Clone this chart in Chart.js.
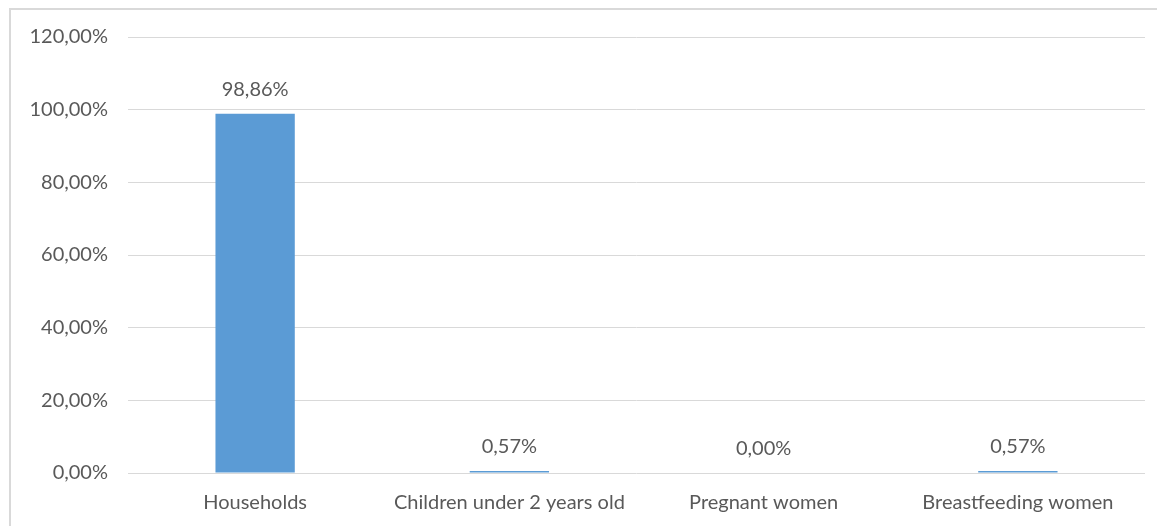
<!DOCTYPE html>
<html>
<head>
<meta charset="utf-8">
<script src="https://cdn.jsdelivr.net/npm/chart.js@4"></script>
<style>
  html, body { margin: 0; padding: 0; background: #fff; }
  #wrap { position: relative; width: 1157px; height: 526px; overflow: hidden; }
  #frame { position: absolute; left: 9px; top: 8px; width: 1200px; height: 600px; border: 2px solid #d9d9d9; box-sizing: border-box; }
  canvas { position: absolute; left: 0; top: 0; }
</style>
</head>
<body>
<div id="wrap">
  <div id="frame"></div>
  <canvas id="Chart" width="1157" height="526"></canvas>
</div>
<script>
const categories = ['Households', 'Children under 2 years old', 'Pregnant women', 'Breastfeeding women'];
const values = [98.86, 0.57, 0.00, 0.57];
const yTicks = [0, 20, 40, 60, 80, 100, 120];

const fmt = v => v.toFixed(2).replace('.', ',') + '%';
const textColor = '#595959';
const fontFamily = 'Lato, "Open Sans", sans-serif';

// labels above each bar
const valueLabels = {
    id: 'valueLabels',
    afterDatasetsDraw(chart) {
        const ctx = chart.ctx;
        const meta = chart.getDatasetMeta(0);
        ctx.save();
        ctx.fillStyle = textColor;
        ctx.font = '20px ' + fontFamily;
        ctx.textAlign = 'center';
        ctx.textBaseline = 'middle';
        meta.data.forEach((bar, i) => {
            ctx.fillText(fmt(values[i]), bar.x, bar.y - 24);
        });
        ctx.restore();
    }
};

const ctx = document.getElementById('Chart').getContext('2d');
const myChart = new Chart(ctx, {
    type: 'bar',
    data: {
        labels: categories,
        datasets: [{
            data: values,
            backgroundColor: '#5b9bd5',
            borderWidth: 0,
            categoryPercentage: 1,
            barPercentage: 0.312
        }]
    },
    options: {
        responsive: false,
        animation: false,
        layout: { padding: { left: 0, right: 12, top: 37, bottom: 0 } },
        plugins: { legend: { display: false }, tooltip: { enabled: false } },
        scales: {
            x: {
                grid: { display: false },
                border: { display: false },
                ticks: { color: textColor, font: { family: fontFamily, size: 20 }, padding: 10, maxRotation: 0 },
                afterFit(scale) { scale.height = 53; }
            },
            y: {
                min: 0,
                max: 120,
                afterBuildTicks(scale) { scale.ticks = yTicks.map(v => ({ value: v })); },
                grid: { color: '#d9d9d9', lineWidth: 1, drawTicks: false },
                border: { display: false },
                ticks: { color: textColor, font: { family: fontFamily, size: 20 }, padding: 20, callback: v => fmt(v) },
                afterFit(scale) { scale.width = 128; }
            }
        }
    },
    plugins: [valueLabels]
});
</script>
</body>
</html>
